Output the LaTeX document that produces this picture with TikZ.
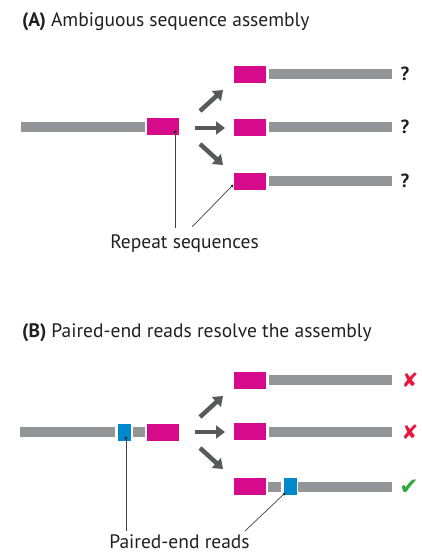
\documentclass[tikz,border=0pt]{standalone}
\usepackage{fontspec}
\setmainfont{PT Sans}
\newfontfamily\symfont{DejaVu Sans}
\usetikzlibrary{arrows.meta}
\definecolor{barGray}{RGB}{147,149,152}
\definecolor{repMag}{RGB}{214,11,140}
\definecolor{peBlue}{RGB}{0,136,204}
\definecolor{arrGray}{RGB}{88,89,91}
\definecolor{crossRed}{RGB}{232,23,61}
\definecolor{checkGreen}{RGB}{46,170,58}
\definecolor{txt}{RGB}{35,31,32}
\tikzset{
  gbar/.style={fill=barGray, draw=white, line width=0.6pt, inner sep=0, minimum height=11pt, rectangle},
  magbox/.style={fill=repMag, draw=white, line width=0.6pt, inner sep=0, minimum width=33pt, minimum height=18pt, rectangle},
  bluebox/.style={fill=peBlue, draw=white, line width=0.6pt, inner sep=0, minimum width=14pt, minimum height=18pt, rectangle},
  bigarrow/.style={draw=arrGray, line width=4.5pt, -{Triangle[length=9pt,width=13pt]}},
  leader/.style={draw=txt!85, line width=0.7pt},
  dotmark/.style={circle, fill=txt, inner sep=0, minimum size=3pt},
  lbl/.style={font=\fontsize{19.5}{22}\selectfont, text=txt, inner sep=0},
  qmark/.style={font=\fontsize{19}{22}\selectfont\bfseries, text=txt, inner sep=0},
  markstyle/.style={inner sep=0, font=\symfont\fontsize{20}{22}\selectfont},
}
\begin{document}
\begin{tikzpicture}[x=1pt,y=-1pt]
\useasboundingbox (0,0) rectangle (422,553);

% ---------- Panel A ----------
\node[lbl, anchor=base west] (titleA) at (22,27) {\textbf{(A)}\hspace{5pt}Ambiguous sequence assembly};

\node[gbar, minimum width=125pt] (mainA) at (82.5,126.5) {};
\node[magbox] (repA) at (162.5,126.5) {};

\node[magbox] (a1m) at (249.5,74) {};
\node[gbar, minimum width=124pt] (a1g) at (330,74) {};
\node[qmark] (a1q) at (405,74) {?};

\node[magbox] (a2m) at (249.5,127) {};
\node[gbar, minimum width=124pt] (a2g) at (330,127) {};
\node[qmark] (a2q) at (405,127) {?};

\node[magbox] (a3m) at (249.5,181) {};
\node[gbar, minimum width=124pt] (a3g) at (330,181) {};
\node[qmark] (a3q) at (405,181) {?};

\coordinate (aT1) at (200,111); \coordinate (aH1) at (223,90);
\coordinate (aT2) at (195,128); \coordinate (aH2) at (225,128);
\coordinate (aT3) at (200,144); \coordinate (aH3) at (223,165);
\draw[bigarrow] (aT1) -- (aH1);
\draw[bigarrow] (aT2) -- (aH2);
\draw[bigarrow] (aT3) -- (aH3);

\node[lbl, anchor=base] (repText) at (184.5,248) {Repeat sequences};
\node[dotmark] (dA1) at (175,132) {};
\node[dotmark] (dA2) at (232,186) {};
\coordinate (eA1) at (175,228);
\coordinate (eA2) at (192,227);
\draw[leader] (dA1.center) -- (eA1);
\draw[leader] (dA2.center) -- (eA2);

% ---------- Panel B ----------
\node[lbl, anchor=base west] (titleB) at (22,337) {\textbf{(B)}\hspace{5pt}Paired-end reads resolve the assembly};

\node[gbar, minimum width=96pt] (mainB) at (67.5,432) {};
\node[bluebox] (peB) at (124,432) {};
\node[gbar, minimum width=13pt] (midB) at (139,432) {};
\node[magbox] (repB) at (162.5,432) {};

\node[magbox] (b1m) at (249.5,380) {};
\node[gbar, minimum width=124pt] (b1g) at (330,380) {};
\node[markstyle, text=crossRed] (b1x) at (410,380) {✘};

\node[magbox] (b2m) at (249.5,431.5) {};
\node[gbar, minimum width=124pt] (b2g) at (330,431.5) {};
\node[markstyle, text=crossRed] (b2x) at (410,432) {✘};

\node[magbox] (b3m) at (249.5,486.5) {};
\node[gbar, minimum width=14pt] (b3g1) at (274.5,486.5) {};
\node[bluebox] (b3p) at (290,486.5) {};
\node[gbar, minimum width=95pt] (b3g2) at (345,486.5) {};
\node[inner sep=0, font=\symfont\fontsize{23}{24}\selectfont, text=checkGreen] (b3c) at (409,487) {✔};

\coordinate (bT1) at (200,417); \coordinate (bH1) at (223,396);
\coordinate (bT2) at (195,432); \coordinate (bH2) at (225,432);
\coordinate (bT3) at (200,448); \coordinate (bH3) at (223,469);
\draw[bigarrow] (bT1) -- (bH1);
\draw[bigarrow] (bT2) -- (bH2);
\draw[bigarrow] (bT3) -- (bH3);

\node[lbl, anchor=base] (peText) at (179.5,548) {Paired-end reads};
\node[dotmark] (dB1) at (126,438) {};
\node[dotmark] (dB2) at (284,494) {};
\coordinate (eB1) at (126,531);
\coordinate (eB2) at (245,531);
\draw[leader] (dB1.center) -- (eB1);
\draw[leader] (dB2.center) -- (eB2);
\end{tikzpicture}
\end{document}
